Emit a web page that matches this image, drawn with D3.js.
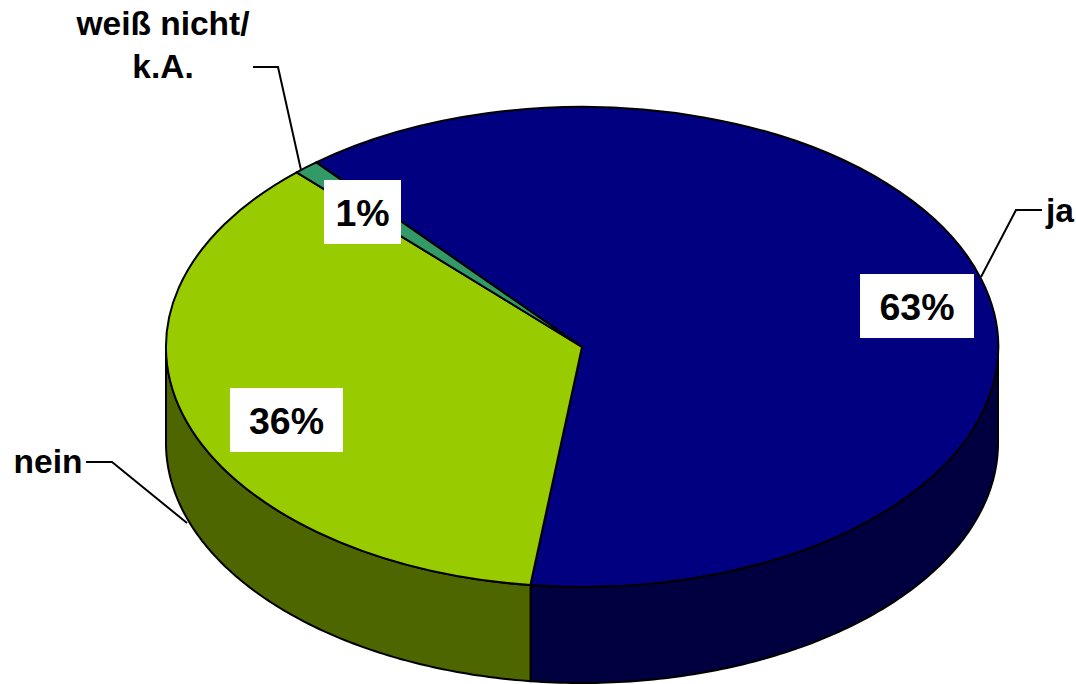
<!DOCTYPE html>
<html>
<head>
<meta charset="utf-8">
<script src="https://cdnjs.cloudflare.com/ajax/libs/d3/7.8.5/d3.min.js"></script>
<style>html,body{margin:0;padding:0;background:#fff}svg{display:block}text{font-family:"Liberation Sans",Arial,sans-serif;font-weight:bold;fill:#000}</style>
</head>
<body>
<script>
const categories = ["ja", "nein", "weiß nicht/ k.A."];
const values = [63, 36, 1];
const percentLabels = ["63%", "36%", "1%"];
const topColors = ["#000080", "#99CC00", "#339966"];
const sideColors = ["#000040", "#4D6600", "#1A4D33"];

const W = 1076, H = 684, cx = 582, cy = 347, rx = 416, ry = 240, depth = 96;
const startDeg = -39.7;
const svg = d3.select("body").append("svg").attr("width", W).attr("height", H);

const arcs = d3.pie().sort(null).startAngle(startDeg * Math.PI / 180).endAngle((startDeg + 360) * Math.PI / 180)(values);
const px = d3.scaleLinear().domain([-1, 1]).range([cx - rx, cx + rx]);
const py = d3.scaleLinear().domain([-1, 1]).range([cy - ry, cy + ry]);

// side walls: the part of each slice facing the viewer
const wall = d3.line();
arcs.forEach((d, i) => {
  const a0 = Math.max(d.startAngle, Math.PI / 2), a1 = Math.min(d.endAngle, 3 * Math.PI / 2);
  if (a1 <= a0) return;
  const n = 120;
  const ang = d3.range(n + 1).map(k => a0 + (a1 - a0) * k / n);
  const up = ang.map(a => [px(Math.sin(a)), py(-Math.cos(a))]);
  const down = ang.slice().reverse().map(a => [px(Math.sin(a)), py(-Math.cos(a)) + depth]);
  svg.append("path").attr("d", wall(up.concat(down)) + "Z")
    .attr("fill", sideColors[i]).attr("stroke", "#000").attr("stroke-width", 2).attr("stroke-linejoin", "round");
});

// top face
const arc = d3.arc().innerRadius(0).outerRadius(1);
svg.append("g").attr("transform", `translate(${cx},${cy}) scale(${rx},${ry})`)
  .selectAll("path").data(arcs).join("path")
  .attr("d", arc)
  .attr("fill", (d, i) => topColors[i])
  .attr("stroke", "#000").attr("stroke-width", 2)
  .attr("stroke-linejoin", "round")
  .attr("vector-effect", "non-scaling-stroke");

// leader lines
const leaders = [
  [[1042, 210], [1016, 210], [981, 277]],
  [[86, 462], [112, 462], [187, 523]],
  [[253, 67], [278, 67], [301, 170]]
];
svg.selectAll("path.leader").data(leaders).join("path").attr("class", "leader")
  .attr("d", d3.line()).attr("fill", "none").attr("stroke", "#000").attr("stroke-width", 2);

// percent boxes
const boxes = [[860, 274, 114, 64], [230, 388, 113, 64], [324, 180, 77, 64]];
boxes.forEach((b, i) => {
  svg.append("rect").attr("x", b[0]).attr("y", b[1]).attr("width", b[2]).attr("height", b[3]).attr("fill", "#fff");
  svg.append("text").attr("x", b[0] + b[2] / 2).attr("y", b[1] + 46).attr("text-anchor", "middle")
    .attr("font-size", 37.5).text(percentLabels[i]);
});

// category labels
const catText = [
  {t: categories[0], x: 1060, y: 222},
  {t: categories[1], x: 48, y: 473},
  {t: "weiß nicht/", x: 163, y: 35},
  {t: "k.A.", x: 163, y: 78}
];
svg.selectAll("text.cat").data(catText).join("text").attr("class", "cat")
  .attr("x", d => d.x).attr("y", d => d.y).attr("text-anchor", "middle")
  .attr("font-size", 33.5).text(d => d.t);
</script>
</body>
</html>
